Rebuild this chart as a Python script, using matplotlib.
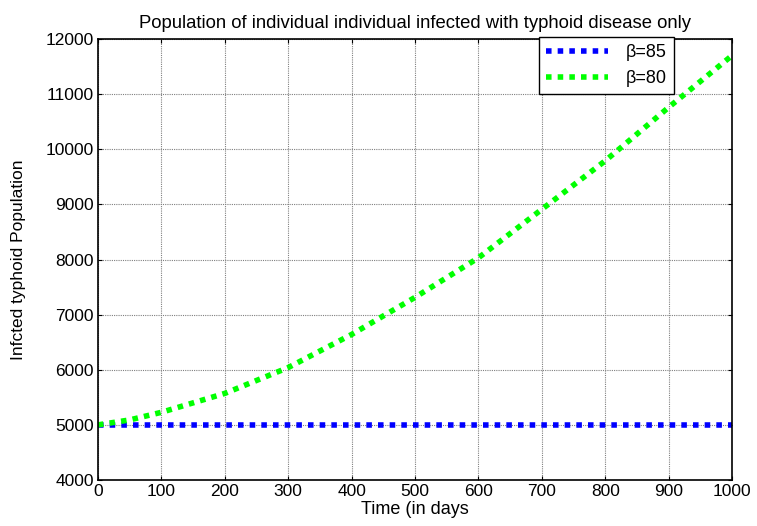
import numpy as np
import matplotlib.pyplot as plt

# data
days = [0, 50, 100, 200, 300, 400, 500, 600, 700, 800, 900, 1000]
infected_b85 = [5000, 5000, 5000, 5000, 5000, 5000, 5000, 5000, 5000, 5000, 5000, 5000]
infected_b80 = [5000, 5090, 5228, 5571, 6040, 6640, 7313, 8030, 8910, 9790, 10760, 11700]

plt.rcParams["font.family"] = ["Liberation Sans", "DejaVu Sans"]
plt.rcParams["font.size"] = 12.5

fig = plt.figure(figsize=(7.57, 5.26), dpi=100)
ax = fig.add_axes([98 / 757, 1 - 480 / 526, (732 - 98) / 757, (480 - 39) / 526])

ax.plot(days, infected_b85, color="#0000ff", lw=4, dashes=(1, 1.1),
        dash_capstyle="butt", label="\u03b2=85")
ax.plot(days, infected_b80, color="#00ff00", lw=4, dashes=(1, 1.1),
        dash_capstyle="butt", label="\u03b2=80")

ax.set_xlim(0, 1000)
ax.set_ylim(4000, 12000)
ax.set_xticks(np.arange(0, 1001, 100))
ax.set_yticks(np.arange(4000, 12001, 1000))
ax.grid(True, color="#808080", linestyle=(0, (1, 1)), lw=0.8)
ax.tick_params(direction="in", top=True, right=True, length=3, labelsize=12.5, pad=3)
for s in ax.spines.values():
    s.set_linewidth(1.2)

ax.set_title("Population of individual individual infected with typhoid disease only",
             fontsize=13.3, pad=8)
ax.set_xlabel("Time (in days", fontsize=13, labelpad=1)
ax.set_ylabel("Infcted typhoid Population", fontsize=12.5, labelpad=14)

leg = ax.legend(loc="upper right", bbox_to_anchor=((674 - 98) / 634, 1.005),
                fancybox=False, edgecolor="black", framealpha=1,
                handlelength=3.4, handletextpad=1.0, borderaxespad=0,
                borderpad=0.4, prop={"size": 13})
leg.get_frame().set_linewidth(1.0)

plt.savefig("out.png", dpi=100)
